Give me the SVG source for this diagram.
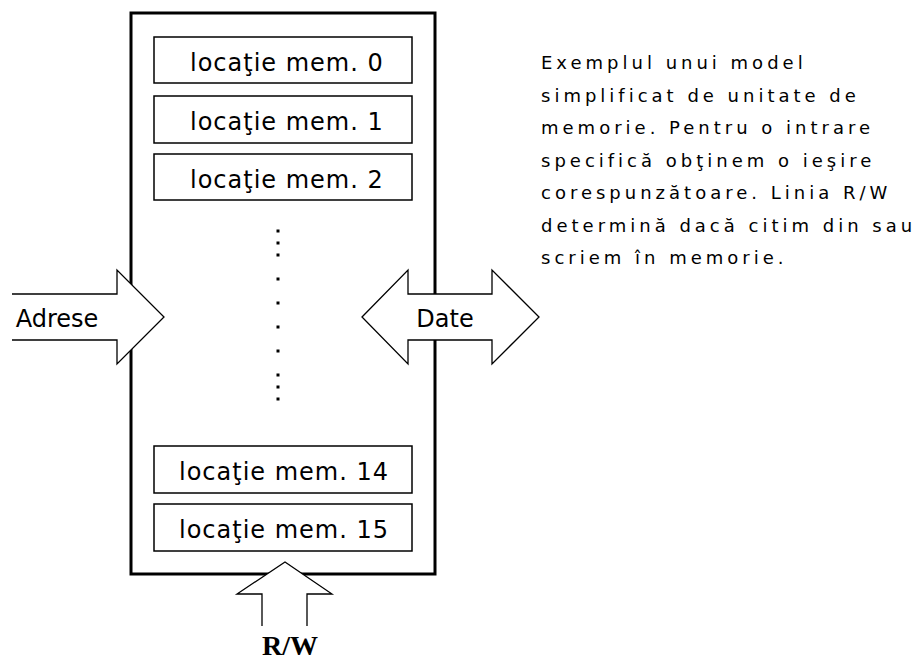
<svg xmlns="http://www.w3.org/2000/svg" width="920" height="662" viewBox="0 0 920 662">
<style>
.frame{fill:#fff;stroke:#000;stroke-width:3}
.cell{fill:#fff;stroke:#000;stroke-width:1.5}
.cell-t{font-family:"DejaVu Sans",sans-serif;font-size:24px;letter-spacing:1px;fill:#000}
.arr{fill:#fff;stroke:#000;stroke-width:1.3;stroke-linejoin:miter}
.lbl{font-family:"DejaVu Sans",sans-serif;font-size:24px;fill:#000;text-anchor:middle}
.rw{font-family:"Liberation Serif",serif;font-size:28px;font-weight:bold;fill:#000;text-anchor:middle}
.desc{font-family:"DejaVu Sans",sans-serif;font-size:18px;letter-spacing:4px;fill:#000}
.dot{fill:#000}
</style>
<rect width="920" height="662" fill="#fff"/>
<g id="memory">
  <rect class="frame" x="131" y="13" width="304" height="561"/>
</g>
<g id="loc0"><rect class="cell" x="154" y="37" width="258" height="46"/><text class="cell-t" x="190" y="70.5">locaţie mem. 0</text></g>
<g id="loc1"><rect class="cell" x="154" y="96" width="258" height="47"/><text class="cell-t" x="190" y="130">locaţie mem. 1</text></g>
<g id="loc2"><rect class="cell" x="154" y="154" width="258" height="46"/><text class="cell-t" x="190" y="188">locaţie mem. 2</text></g>
<g id="ellipsis">
  <rect class="dot" x="276.5" y="229.5" width="3" height="3"/>
  <rect class="dot" x="276.5" y="241.5" width="3" height="3"/>
  <rect class="dot" x="276.5" y="253.5" width="3" height="3"/>
  <rect class="dot" x="276.5" y="277.5" width="3" height="3"/>
  <rect class="dot" x="276.5" y="301.5" width="3" height="3"/>
  <rect class="dot" x="276.5" y="325.5" width="3" height="3"/>
  <rect class="dot" x="276.5" y="349.5" width="3" height="3"/>
  <rect class="dot" x="276.5" y="373.5" width="3" height="3"/>
  <rect class="dot" x="276.5" y="385.5" width="3" height="3"/>
  <rect class="dot" x="276.5" y="397.5" width="3" height="3"/>
</g>
<g id="loc14"><rect class="cell" x="154" y="446" width="258" height="47"/><text class="cell-t" x="179" y="479.5">locaţie mem. 14</text></g>
<g id="loc15"><rect class="cell" x="154" y="504" width="258" height="47"/><text class="cell-t" x="179" y="538">locaţie mem. 15</text></g>
<g id="connectors">
  <path id="arrow-adrese" class="arr" d="M12,294 H117 V270 L164,317 L117,364 V340 H12"/>
  <path id="arrow-date" class="arr" d="M362,317 L408,270 V294 H492 V270 L539,317 L492,364 V340 H408 V364 Z"/>
  <path id="arrow-rw" class="arr" d="M262,626 V594 H237 L285,562 L332,594 H307 V626"/>
</g>
<g id="label-adrese"><text class="lbl" x="57" y="327">Adrese</text></g>
<g id="label-date"><text class="lbl" x="445" y="327">Date</text></g>
<g id="label-rw"><text class="rw" x="290" y="655">R/W</text></g>
<g id="description">
  <text class="desc" x="541" y="69">Exemplul unui model</text>
  <text class="desc" x="541" y="101.5">simplificat de unitate de</text>
  <text class="desc" x="541" y="134">memorie. Pentru o intrare</text>
  <text class="desc" x="541" y="166.5">specifică obţinem o ieşire</text>
  <text class="desc" x="541" y="199">corespunzătoare. Linia R/W</text>
  <text class="desc" x="541" y="231.5">determină dacă citim din sau</text>
  <text class="desc" x="541" y="264">scriem în memorie.</text>
</g>
</svg>
